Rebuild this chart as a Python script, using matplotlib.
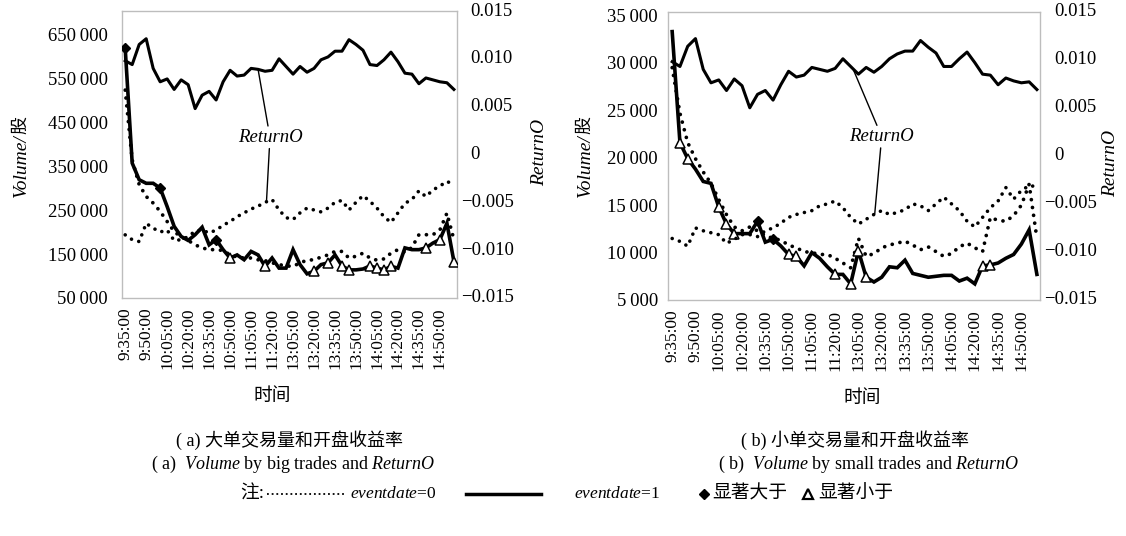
import matplotlib.pyplot as plt
import matplotlib.transforms as mtransforms
import numpy as np

plt.rcParams['font.family'] = ['Liberation Serif', 'Noto Sans CJK SC']
plt.rcParams['mathtext.fontset'] = 'custom'
plt.rcParams['mathtext.rm'] = 'Liberation Serif'
plt.rcParams['mathtext.it'] = 'Liberation Serif:italic'

# 5-minute intervals, morning and afternoon session
times = ['9:35:00', '9:40:00', '9:45:00', '9:50:00', '9:55:00', '10:00:00',
         '10:05:00', '10:10:00', '10:15:00', '10:20:00', '10:25:00', '10:30:00',
         '10:35:00', '10:40:00', '10:45:00', '10:50:00', '10:55:00', '11:00:00',
         '11:05:00', '11:10:00', '11:15:00', '11:20:00', '11:25:00', '11:30:00',
         '13:05:00', '13:10:00', '13:15:00', '13:20:00', '13:25:00', '13:30:00',
         '13:35:00', '13:40:00', '13:45:00', '13:50:00', '13:55:00', '14:00:00',
         '14:05:00', '14:10:00', '14:15:00', '14:20:00', '14:25:00', '14:30:00',
         '14:35:00', '14:40:00', '14:45:00', '14:50:00', '14:55:00', '15:00:00']

# (a) big trades
big_vol_0 = [523000, 364000, 308000, 281000, 266000, 247000, 224000, 201000, 189000, 181000,
             171000, 164000, 160000, 160000, 158000, 148000, 143000, 141000, 141000, 137000,
             135000, 130000, 126000, 123000, 122000, 130000, 136000, 137000, 143000, 148000,
             156000, 156000, 141000, 145000, 152000, 141000, 136000, 139000, 152000, 160000,
             154000, 165000, 194000, 194000, 194000, 205000, 243000, 183000]
big_vol_1 = [618000, 357000, 319000, 311000, 311000, 300000, 258000, 213000, 190000, 181000,
             194000, 211000, 171000, 183000, 160000, 141000, 148000, 137000, 156000, 148000,
             122000, 141000, 118000, 118000, 160000, 126000, 105000, 111000, 126000, 130000,
             148000, 123000, 114000, 114000, 116000, 123000, 118000, 114000, 122000, 118000,
             164000, 160000, 160000, 164000, 175000, 183000, 220000, 133000]
big_ret_0 = [-0.0084, -0.0089, -0.0091, -0.0072, -0.0077, -0.0081, -0.0079, -0.0090, -0.0089, -0.0086,
             -0.0080, -0.0079, -0.0082, -0.0079, -0.0074, -0.0070, -0.0065, -0.0061, -0.0057, -0.0054,
             -0.0050, -0.0047, -0.0058, -0.0066, -0.0068, -0.0061, -0.0056, -0.0058, -0.0060, -0.0056,
             -0.0050, -0.0048, -0.0058, -0.0050, -0.0043, -0.0049, -0.0056, -0.0065, -0.0071, -0.0061,
             -0.0051, -0.0047, -0.0038, -0.0044, -0.0037, -0.0033, -0.0028, -0.0032]
big_ret_1 = [0.0098, 0.0094, 0.0115, 0.0121, 0.0090, 0.0076, 0.0079, 0.0068, 0.0078, 0.0073,
             0.0048, 0.0062, 0.0066, 0.0057, 0.0076, 0.0088, 0.0082, 0.0083, 0.0090, 0.0089,
             0.0087, 0.0088, 0.0100, 0.0092, 0.0084, 0.0092, 0.0086, 0.0090, 0.0099, 0.0102,
             0.0108, 0.0108, 0.0120, 0.0115, 0.0109, 0.0094, 0.0093, 0.0099, 0.0107, 0.0097,
             0.0085, 0.0084, 0.0074, 0.0080, 0.0078, 0.0076, 0.0075, 0.0068]
big_up = [0, 5, 13]
big_down = [15, 20, 27, 29, 31, 32, 35, 36, 37, 38, 43, 45, 47]

# (b) small trades
small_vol_0 = [29500, 24700, 21600, 19900, 18500, 17300, 15600, 14000, 12700, 12300,
               12700, 12300, 11800, 11500, 11300, 10800, 10500, 10100, 10000, 9800,
               9800, 9400, 8900, 8400, 11500, 9600, 9900, 10500, 10800, 11000,
               11200, 10800, 10300, 10600, 10100, 9600, 9900, 10600, 11000, 10500,
               10100, 13700, 13400, 13300, 13900, 15000, 17200, 11500]
small_vol_1 = [33300, 21600, 19900, 18800, 17500, 17300, 14800, 13000, 12000, 12000,
               12000, 13300, 11100, 11400, 10700, 9800, 9600, 8600, 10000, 9400,
               8500, 7700, 7700, 6700, 10200, 7400, 6900, 7400, 8500, 8400,
               9200, 7800, 7600, 7400, 7500, 7600, 7600, 7000, 7300, 6700,
               8600, 8700, 8900, 9400, 9800, 10900, 12400, 7700]
small_ret_0 = [-0.0086, -0.0089, -0.0094, -0.0075, -0.0078, -0.0080, -0.0082, -0.0091, -0.0087, -0.0082,
               -0.0082, -0.0084, -0.0078, -0.0075, -0.0070, -0.0064, -0.0061, -0.0059, -0.0057, -0.0052,
               -0.0050, -0.0047, -0.0054, -0.0064, -0.0071, -0.0066, -0.0061, -0.0057, -0.0061, -0.0059,
               -0.0056, -0.0050, -0.0052, -0.0057, -0.0050, -0.0043, -0.0050, -0.0057, -0.0068, -0.0074,
               -0.0064, -0.0054, -0.0047, -0.0033, -0.0045, -0.0036, -0.0031, -0.0032]
small_ret_1 = [0.0098, 0.0093, 0.0114, 0.0122, 0.0090, 0.0076, 0.0079, 0.0068, 0.0080, 0.0073,
               0.0050, 0.0064, 0.0068, 0.0058, 0.0074, 0.0088, 0.0082, 0.0084, 0.0092, 0.0090,
               0.0088, 0.0091, 0.0101, 0.0093, 0.0085, 0.0092, 0.0087, 0.0093, 0.0101, 0.0106,
               0.0109, 0.0109, 0.0120, 0.0113, 0.0107, 0.0093, 0.0093, 0.0101, 0.0108, 0.0097,
               0.0085, 0.0084, 0.0074, 0.0081, 0.0078, 0.0076, 0.0077, 0.0069]
small_up = [11, 13]
small_down = [1, 2, 6, 7, 8, 15, 16, 21, 23, 24, 25, 40, 41]

big_vol_ticks = [50000, 150000, 250000, 350000, 450000, 550000, 650000]
small_vol_ticks = [5000, 10000, 15000, 20000, 25000, 30000, 35000]
ret_ticks = [-0.015, -0.010, -0.005, 0, 0.005, 0.010, 0.015]
ret_labels = ['\u22120.015', '\u22120.010', '\u22120.005', '0', '0.005', '0.010', '0.015']

W, H = 1126, 536
fig = plt.figure(figsize=(W / 100, H / 100), dpi=100)
x = np.arange(len(times))
dotted = (0, (0.01, 2.1))
frame_col = '#bdbdbd'


def px_rect(l, t, r, b):
    return [l / W, 1 - b / H, (r - l) / W, (b - t) / H]


def draw_panel(rect, vol0, vol1, ret0, ret1, up, down, vol_ticks, vol_top,
               lab_xy, up_at, low_at, left_pad):
    ax = fig.add_axes(rect)
    ax2 = ax.twinx()
    vol1 = np.array(vol1)

    ax.plot(x, vol0, color='black', lw=2.7, ls=dotted, dash_capstyle='round')
    ax.plot(x, vol1, color='black', lw=2.6, solid_joinstyle='miter')
    ax.plot(x[up], vol1[up], ls='None', marker='D', ms=5.5, color='black', zorder=5)
    ax.plot(x[down], vol1[down], ls='None', marker='^', ms=7.5, mfc='white',
            mec='black', mew=1.1, zorder=5)
    ax2.plot(x, ret0, color='black', lw=2.6, ls=dotted, dash_capstyle='round')
    ax2.plot(x, ret1, color='black', lw=2.2)

    ax.set_xlim(-0.5, 47.4)
    ax.set_ylim(vol_ticks[0], vol_top)
    ax2.set_ylim(-0.015, 0.015)

    ax.set_xticks(x[::3])
    ax.set_xticklabels(times[::3], rotation=90, fontsize=12.5)
    ax.set_yticks(vol_ticks)
    ax.set_yticklabels([f'{v:,}'.replace(',', '\u2009') for v in vol_ticks], fontsize=13.5)
    ax.tick_params(axis='both', length=0)
    ax.tick_params(axis='x', pad=7)
    ax.tick_params(axis='y', pad=left_pad)

    # right axis labels, negative ones hang the minus sign into the gap
    ax2.set_yticks(ret_ticks)
    ax2.set_yticklabels([])
    ax2.tick_params(axis='y', length=0)
    blend = mtransforms.blended_transform_factory(ax2.transAxes, ax2.transData)
    for t, lab in zip(ret_ticks, ret_labels):
        dx = 4 if lab.startswith('\u2212') else 14
        tr = blend + mtransforms.ScaledTranslation(dx / 100, 0, fig.dpi_scale_trans)
        ax2.text(1.0, t, lab, transform=tr, ha='left', va='center', fontsize=13.5)

    for s in ax.spines.values():
        s.set_color(frame_col)
        s.set_linewidth(1)
    for s in ax2.spines.values():
        s.set_visible(False)

    # ReturnO callout pointing at both return lines
    ax2.annotate('ReturnO', xy=(up_at, np.interp(up_at, x, ret1)), xytext=lab_xy,
                 ha='center', va='center', style='italic', fontsize=13.5,
                 arrowprops=dict(arrowstyle='-', color='black', lw=1, shrinkA=0, shrinkB=0))
    ax2.annotate('ReturnO', xy=(low_at, np.interp(low_at, x, ret0)), xytext=lab_xy,
                 ha='center', va='center', style='italic', fontsize=13.5, color='none',
                 arrowprops=dict(arrowstyle='-', color='black', lw=1, shrinkA=0, shrinkB=0))
    return ax, ax2


draw_panel(px_rect(121.7, 11, 456.7, 298), big_vol_0, big_vol_1, big_ret_0, big_ret_1,
           big_up, big_down, big_vol_ticks, 703000, (20.7, 0.0018), 19.0, 20.2, 10)
draw_panel(px_rect(668.3, 11.7, 1040, 300), small_vol_0, small_vol_1, small_ret_0, small_ret_1,
           small_up, small_down, small_vol_ticks, 35400, (27.0, 0.0020), 23.3, 26.1, 7.5)


def vlabel(xp, yc, italic_part, cjk_part, size=14):
    # rotated label: italic latin part, then the Chinese unit on top
    t1 = fig.text(xp / W, 1 - (yc + 44) / H, italic_part, rotation=90, ha='center',
                  va='bottom', style='italic', fontsize=size)
    fig.add_artist(plt.Annotation(cjk_part, xy=(0.5, 1.0), xycoords=t1, rotation=90,
                                  ha='center', va='bottom', fontsize=size - 1))
    return t1


vlabel(21, 153, 'Volume/', '股')
vlabel(585, 153, 'Volume/', '股')
fig.text(540 / W, 1 - 152 / H, 'ReturnO', rotation=90, ha='center', va='center',
         style='italic', fontsize=14)
fig.text(1111 / W, 1 - 163 / H, 'ReturnO', rotation=90, ha='center', va='center',
         style='italic', fontsize=14)

fig.text(272 / W, 1 - 397 / H, '时间', ha='center', va='center', fontsize=13.5)
fig.text(862 / W, 1 - 398 / H, '时间', ha='center', va='center', fontsize=13.5)

fig.text(290 / W, 1 - 440 / H, '( a) 大单交易量和开盘收益率', ha='center', va='center', fontsize=13)
fig.text(293 / W, 1 - 464 / H, r'( a)  $\mathit{Volume}$ by big trades and $\mathit{ReturnO}$',
         ha='center', va='center', fontsize=13)
fig.text(855 / W, 1 - 440 / H, '( b) 小单交易量和开盘收益率', ha='center', va='center', fontsize=13)
fig.text(869 / W, 1 - 464 / H, r'( b)  $\mathit{Volume}$ by small trades and $\mathit{ReturnO}$',
         ha='center', va='center', fontsize=13)

# legend strip along the bottom, laid out in pixel space
lg = fig.add_axes([0, 0, 1, 1])
lg.set_xlim(0, W)
lg.set_ylim(H, 0)
lg.axis('off')
ly = 494
lg.text(240, ly, '注:', ha='left', va='center', fontsize=13.5)
lg.plot([267, 345], [ly, ly], color='black', lw=1.3, ls=(0, (1, 1.6)))
lg.text(350, ly, r'$\mathit{eventdate}$=0', ha='left', va='center', fontsize=12.5)
lg.plot([466, 541], [ly, ly], color='black', lw=2.5)
lg.text(574, ly, r'$\mathit{eventdate}$=1', ha='left', va='center', fontsize=12.5)
lg.plot([704], [ly], ls='None', marker='D', ms=5.5, color='black')
lg.text(712, ly, '显著大于', ha='left', va='center', fontsize=13.5)
lg.plot([808], [ly], ls='None', marker='^', ms=7, mfc='white', mec='black', mew=1.6)
lg.text(818, ly, '显著小于', ha='left', va='center', fontsize=13.5)

fig.savefig('out.png', dpi=100, facecolor='white')
